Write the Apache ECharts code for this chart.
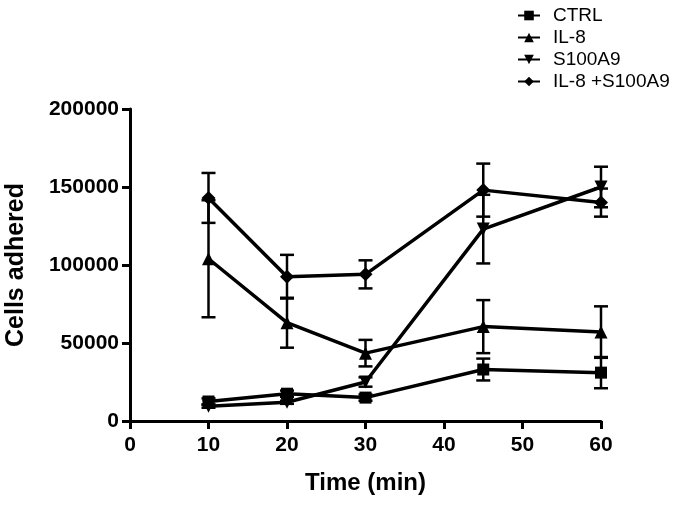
<!DOCTYPE html>
<html><head><meta charset="utf-8">
<script src="https://cdn.jsdelivr.net/npm/echarts@6/dist/echarts.min.js"></script>
<style>html,body{margin:0;padding:0;background:#fff}#c{width:676px;height:505px}</style>
</head><body><div id="c"></div>
<script>
const times = [10, 20, 30, 45, 60];
const seriesNames = ['CTRL', 'IL-8', 'S100A9', 'IL-8 +S100A9'];
const ctrlMean = [12500, 17500, 15000, 33000, 31000];
const ctrlErr = [2000, 2000, 2000, 7000, 10000];
const il8Mean = [104000, 63000, 43500, 60500, 57000];
const il8Err = [37500, 16000, 8500, 17000, 16500];
const s100Mean = [9500, 12000, 25000, 123000, 150000];
const s100Err = [1000, 1000, 3000, 22000, 13000];
const bothMean = [143000, 92500, 94000, 148000, 140000];
const bothErr = [16000, 14000, 9000, 17000, 9000];
const xTicks = [0, 10, 20, 30, 40, 50, 60];
const yTicks = [0, 50000, 100000, 150000, 200000];

const FONT = '"Liberation Sans", Arial, sans-serif';
const means = [ctrlMean, il8Mean, s100Mean, bothMean];
const errs = [ctrlErr, il8Err, s100Err, bothErr];
const symbols = ['rect', 'triangle', 'path://M0,0 L10,0 L5,9 Z', 'diamond'];
const sizes = [12, 13, 13, 14];

const series = [];
seriesNames.forEach((name, i) => {
  series.push({
    name: name, type: 'line',
    data: times.map((t, j) => [t, means[i][j]]),
    symbol: symbols[i], symbolSize: sizes[i],
    showAllSymbol: true,
    lineStyle: {color: '#000', width: 3.5},
    itemStyle: {color: '#000'},
    z: 3
  });
  series.push({
    name: name + ' err', type: 'custom',
    data: times.map((t, j) => [t, means[i][j] - errs[i][j], means[i][j] + errs[i][j]]),
    renderItem: function (params, api) {
      const x = api.value(0);
      const lo = api.coord([x, api.value(1)]);
      const hi = api.coord([x, api.value(2)]);
      const hw = 7;
      const st = {stroke: '#000', lineWidth: 2.5};
      return {type: 'group', children: [
        {type: 'line', shape: {x1: lo[0], y1: lo[1], x2: hi[0], y2: hi[1]}, style: st},
        {type: 'line', shape: {x1: lo[0] - hw, y1: lo[1], x2: lo[0] + hw, y2: lo[1]}, style: st},
        {type: 'line', shape: {x1: hi[0] - hw, y1: hi[1], x2: hi[0] + hw, y2: hi[1]}, style: st}
      ]};
    },
    z: 2, silent: true
  });
});

const chart = echarts.init(document.getElementById('c'), null, {renderer: 'canvas'});
chart.setOption({
  animation: false,
  backgroundColor: '#fff',
  grid: {left: 130, right: 75, top: 109, bottom: 84, containLabel: false, outerBoundsMode: 'none'},
  legend: {
    data: seriesNames, orient: 'vertical', left: 512, top: 1,
    itemWidth: 22, itemHeight: 12, itemGap: 3,
    textStyle: {fontFamily: FONT, fontSize: 19, color: '#000', padding: [0, 0, 0, 8]}
  },
  xAxis: {
    type: 'value', min: xTicks[0], max: xTicks[xTicks.length - 1], interval: 10,
    name: 'Time (min)', nameLocation: 'middle', nameGap: 50,
    nameTextStyle: {fontFamily: FONT, fontSize: 24, fontWeight: 'bold', color: '#000'},
    axisLine: {onZero: false, lineStyle: {color: '#000', width: 3}},
    axisTick: {show: true, length: 8, lineStyle: {color: '#000', width: 3}},
    axisLabel: {fontFamily: FONT, fontSize: 21, fontWeight: 'bold', color: '#000', margin: 14},
    splitLine: {show: false}
  },
  yAxis: {
    type: 'value', min: yTicks[0], max: yTicks[yTicks.length - 1], interval: 50000,
    name: 'Cells adhered', nameLocation: 'middle', nameGap: 101, nameRotate: 90,
    nameTextStyle: {fontFamily: FONT, fontSize: 25, fontWeight: 'bold', color: '#000'},
    axisLine: {show: true, onZero: false, lineStyle: {color: '#000', width: 3}},
    axisTick: {show: true, length: 8, lineStyle: {color: '#000', width: 3}},
    axisLabel: {fontFamily: FONT, fontSize: 21, fontWeight: 'bold', color: '#000', margin: 11,
      formatter: v => String(v)},
    splitLine: {show: false}
  },
  series: series
});
</script></body></html>
